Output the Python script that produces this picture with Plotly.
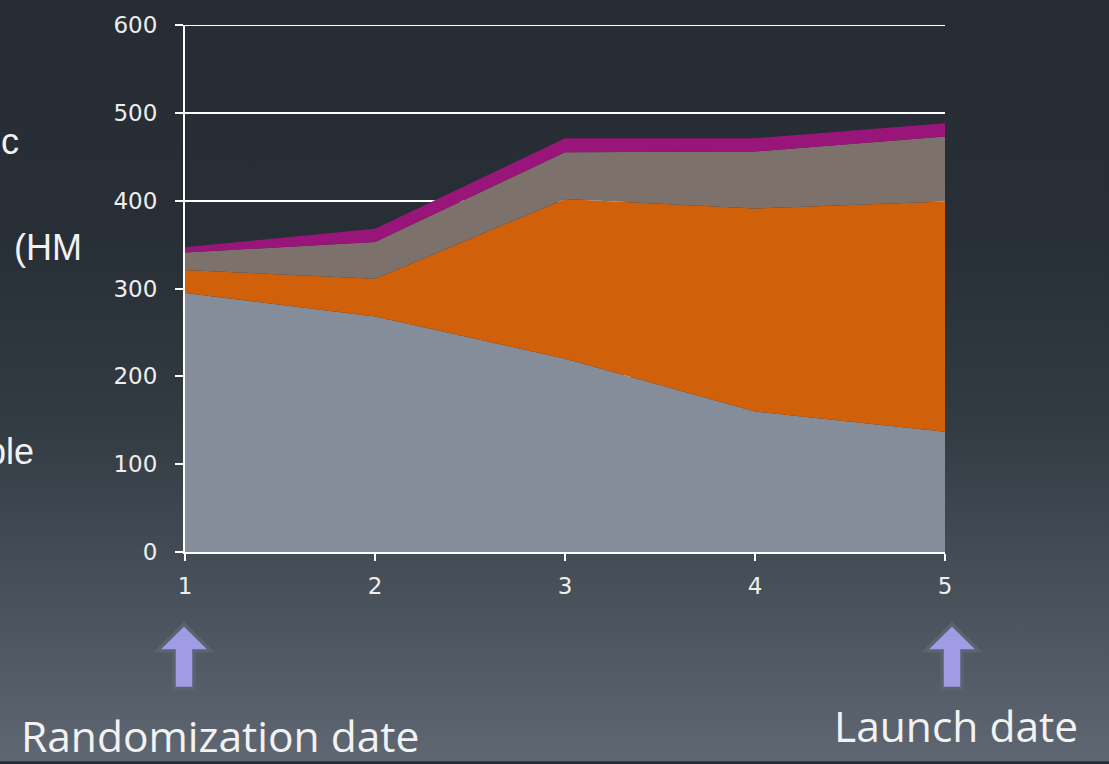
import base64
import plotly.graph_objects as go

# ---- data -------------------------------------------------------------
periods = [1, 2, 3, 4, 5]
layer_gray = [295, 268, 220, 160, 137]
layer_orange = [26, 43, 182, 231, 262]
layer_brown = [20, 42, 53, 65, 74]
layer_purple = [6, 15, 16, 15, 15]
y_ticks = [0, 100, 200, 300, 400, 500, 600]
marker_periods = [1, 5]
marker_labels = ["Randomization date", "Launch date"]

# ---- geometry of the canvas ------------------------------------------
W, H = 1109, 764
L, R, T, B = 185, 164, 19, 212
PW, PH = W - L - R, H - T - B
X_RANGE = [1, 5]
Y_RANGE = [0, 600]


def px_x(px):
    return (px - L) / PW


def px_y(py):
    return (H - B - py) / PH


def data_x_to_px(x):
    return L + (x - X_RANGE[0]) / (X_RANGE[1] - X_RANGE[0]) * PW


fig = go.Figure()

layers = [
    (layer_gray, "#858d9b"),
    (layer_orange, "#d1600a"),
    (layer_brown, "#7d716b"),
    (layer_purple, "#9a1579"),
]
for vals, col in layers:
    fig.add_trace(go.Scatter(
        x=periods, y=vals, mode="lines", stackgroup="one",
        line=dict(width=0, color=col), fillcolor=col,
        hoverinfo="skip", showlegend=False,
    ))

# ---- background gradient ---------------------------------------------
svg = (
    f'<svg xmlns="http://www.w3.org/2000/svg" width="{W}" height="{H}" '
    f'preserveAspectRatio="none">'
    '<defs><linearGradient id="g" x1="0" y1="0" x2="0" y2="1">'
    '<stop offset="0" stop-color="#262d35"/>'
    '<stop offset="0.30" stop-color="#272e36"/>'
    '<stop offset="0.55" stop-color="#323a42"/>'
    '<stop offset="1" stop-color="#5e6772"/>'
    '</linearGradient></defs>'
    f'<rect width="{W}" height="{H}" fill="url(#g)"/></svg>'
)
bg_src = "data:image/svg+xml;base64," + base64.b64encode(svg.encode()).decode()
fig.add_layout_image(dict(
    source=bg_src, xref="paper", yref="paper",
    x=px_x(0), y=px_y(0), sizex=W / PW, sizey=H / PH,
    xanchor="left", yanchor="top", sizing="stretch", layer="below",
))

# top gridline sits on the range edge, draw it explicitly
fig.add_shape(type="line", xref="paper", yref="y", x0=0, x1=1,
              y0=Y_RANGE[1], y1=Y_RANGE[1],
              line=dict(color="white", width=2), layer="below")

# ---- block arrows under the axis -------------------------------------
arrow_nudge_px = [-1, 7]
arrow_tip, arrow_neck, arrow_base = 625, 652, 690
head_half, shaft_half = 27, 10
for xv, nudge in zip(marker_periods, arrow_nudge_px):
    cx = data_x_to_px(xv) + nudge
    pts = [
        (cx, arrow_tip),
        (cx + head_half, arrow_neck),
        (cx + shaft_half, arrow_neck),
        (cx + shaft_half, arrow_base),
        (cx - shaft_half, arrow_base),
        (cx - shaft_half, arrow_neck),
        (cx - head_half, arrow_neck),
    ]
    path = "M " + " L ".join(f"{px_x(a):.5f},{px_y(b):.5f}" for a, b in pts) + " Z"
    fig.add_shape(type="path", path=path, xref="paper", yref="paper",
                  fillcolor="#a09ce4", line=dict(color="#5d6270", width=3.5),
                  layer="above")

# ---- caption texts -----------------------------------------------------
caption_font = dict(family="Open Sans", size=42.5, color="#f2f2f2")
fig.add_annotation(text=marker_labels[0], xref="paper", yref="paper",
                   x=px_x(220), y=px_y(738), xanchor="center", yanchor="middle",
                   showarrow=False, font=caption_font)
fig.add_annotation(text=marker_labels[1], xref="paper", yref="paper",
                   x=px_x(956), y=px_y(727), xanchor="center", yanchor="middle",
                   showarrow=False, font=caption_font)

# fragments of side text partly covered by the chart
side_font = dict(family="Liberation Sans", size=36, color="#f2f2f2")
for txt, rx, cy in [("c", 21, 137), ("(HM", 84, 244), ("ble", 36, 450)]:
    fig.add_annotation(text=txt, xref="paper", yref="paper",
                       x=px_x(rx), y=px_y(cy), xanchor="right", yanchor="middle",
                       showarrow=False, font=side_font)

tick_font = dict(family="DejaVu Sans", size=23, color="#eeeeee")
fig.update_layout(
    width=W, height=H,
    margin=dict(l=L, r=R, t=T, b=B, pad=0),
    paper_bgcolor="#262d35",
    plot_bgcolor="rgba(0,0,0,0)",
    showlegend=False,
    xaxis=dict(
        range=X_RANGE, tickvals=periods, ticktext=[str(p) for p in periods],
        showgrid=False, zeroline=False, showline=True, linecolor="white",
        linewidth=2, ticks="outside", ticklen=7, tickwidth=2, tickcolor="white",
        tickfont=tick_font, ticklabelstandoff=5,
    ),
    yaxis=dict(
        range=Y_RANGE, tickvals=y_ticks, showgrid=True, gridcolor="white",
        gridwidth=2, zeroline=False, showline=True, linecolor="white",
        linewidth=2, ticks="outside", ticklen=8, tickwidth=2, tickcolor="white",
        tickfont=tick_font, ticklabelstandoff=13,
    ),
)

fig.write_html("out.html")
